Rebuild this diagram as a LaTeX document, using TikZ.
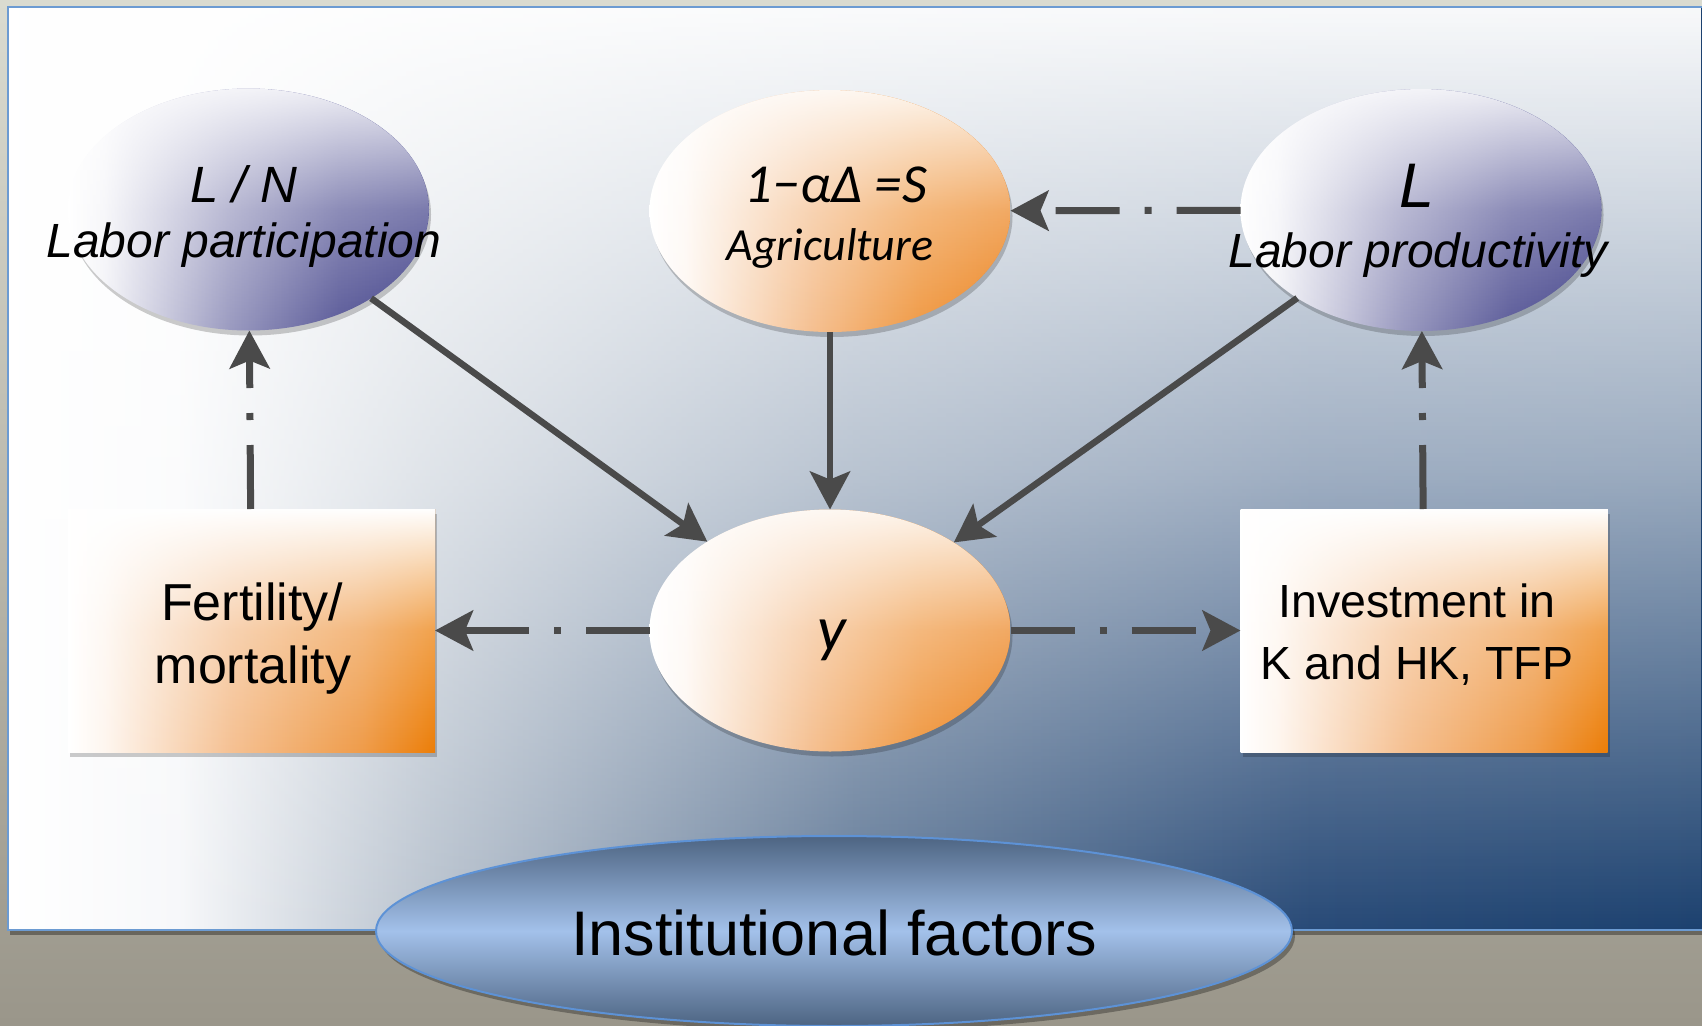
\documentclass[tikz,border=0pt]{standalone}
\usepackage{fontspec}
\setmainfont{Liberation Sans}
\newfontfamily\calib{Carlito}
\usetikzlibrary{shapes.geometric,arrows.meta,shadows,fadings}

\definecolor{arrowgray}{HTML}{4A4A4A}
\definecolor{groundTop}{HTML}{DADBD0}
\definecolor{groundBot}{HTML}{9A968A}
\definecolor{bg0}{HTML}{F7F8FA}
\definecolor{bgA}{HTML}{B8C2CE}
\definecolor{bgB}{HTML}{627A98}
\definecolor{bgC}{HTML}{284A77}
\definecolor{bgD}{HTML}{1C416F}
\definecolor{panelblue}{HTML}{6C9BD2}
\definecolor{purp1}{HTML}{F4F4F8}
\definecolor{purp2}{HTML}{9A9AC0}
\definecolor{purp3}{HTML}{5C5C9A}
\definecolor{purp4}{HTML}{42428A}
\definecolor{or1}{HTML}{FEF8F3}
\definecolor{or2}{HTML}{F5C091}
\definecolor{or3}{HTML}{F09A45}
\definecolor{or4}{HTML}{EC8420}
\definecolor{bx1}{HTML}{FEF6EF}
\definecolor{bx2}{HTML}{F5C091}
\definecolor{bx3}{HTML}{EF9C4A}
\definecolor{bx4}{HTML}{EC7E08}
\definecolor{instEdge}{HTML}{4D6482}
\definecolor{instMid}{HTML}{A3C1EA}
\definecolor{instLine}{HTML}{5D92D6}

\pgfdeclarehorizontalshading{panelh}{100bp}{color(0bp)=(white); color(25bp)=(white); color(30bp)=(bg0); color(37.5bp)=(bgA); color(50bp)=(bgB); color(63.5bp)=(bgC); color(75bp)=(bgD); color(100bp)=(bgD)}
\pgfdeclarehorizontalshading{purph}{100bp}{color(0bp)=(white); color(25bp)=(white); color(30bp)=(purp1); color(47.5bp)=(purp2); color(62.5bp)=(purp3); color(75bp)=(purp4); color(100bp)=(purp4)}
\pgfdeclarehorizontalshading{orh}{100bp}{color(0bp)=(white); color(25bp)=(white); color(30bp)=(or1); color(47.5bp)=(or2); color(62.5bp)=(or3); color(75bp)=(or4); color(100bp)=(or4)}
\pgfdeclarehorizontalshading{bxh}{100bp}{color(0bp)=(white); color(25bp)=(white); color(30bp)=(bx1); color(47.5bp)=(bx2); color(65bp)=(bx3); color(75bp)=(bx4); color(100bp)=(bx4)}
\tikzfading[name=panelfade, top color=transparent!3, bottom color=transparent!100, middle color=transparent!44]
\tikzfading[name=ovalfade, top color=transparent!10, bottom color=transparent!100, middle color=transparent!70]
\tikzfading[name=boxfade, top color=transparent!0, bottom color=transparent!100, middle color=transparent!72]

\begin{document}
\begin{tikzpicture}[x=1pt,y=-1pt,
  solidarr/.style={line width=6.5pt, draw=arrowgray, -{Stealth[length=38pt,width=40pt,inset=8pt,fill=arrowgray]}},
  dd/.style={line width=7pt, draw=arrowgray, dash pattern=on 64pt off 25pt on 7pt off 25pt, -{Stealth[length=38pt,width=40pt,inset=8pt,fill=arrowgray]}},
  shad/.style={drop shadow={shadow xshift=2pt, shadow yshift=-5pt, opacity=0.2, fill=black}},
  oval/.style={ellipse, minimum width=361pt, minimum height=242pt, inner sep=0pt, outer sep=0pt, shad, postaction={fill=white, path fading=ovalfade}},
  purpleov/.style={oval, shading=purph},
  orangeov/.style={oval, shading=orh},
  orbox/.style={rectangle, minimum width=367pt, minimum height=243pt, inner sep=0pt, outer sep=0pt, shad, shading=bxh, postaction={fill=white, path fading=boxfade}},
  txt/.style={inner sep=0pt, anchor=base, text=black},
  ]
\useasboundingbox (0,0) rectangle (1702,1025);
\clip (0,0) rectangle (1702,1025);

% ground
\shade[top color=groundTop, bottom color=groundBot] (0,0) rectangle (1702,1025);

% panel
\shade[shading=panelh, drop shadow={shadow xshift=2pt, shadow yshift=-5pt, opacity=0.35, fill=black}] (8,7) rectangle (1702,930);
\fill[white, path fading=panelfade] (8,7) rectangle (1702,930);
\draw[panelblue, line width=2pt] (1706,7) -- (8,7) -- (8,930) -- (1706,930);

% nodes
\node[purpleov] (LN) at (248.5,209.5) {};
\node[orangeov] (Ag) at (830,211) {};
\node[purpleov] (LP) at (1421,210) {};
\node[orangeov] (Y) at (830,630.5) {};
\node[orbox] (Fert) at (251.5,630.5) {};
\node[orbox] (Inv) at (1424,630.5) {};

% texts
\node[txt, font=\itshape\fontsize{51}{60}\selectfont] (LNa) at (244,202) {L / N};
\node[txt, font=\itshape\fontsize{48}{58}\selectfont] (LNb) at (244,257) {Labor participation};
\node[txt, font=\calib\itshape\fontsize{55}{64}\selectfont] (Aga) at (836,202) {1−αΔ =S};
\node[txt, font=\calib\itshape\fontsize{46}{56}\selectfont] (Agb) at (830,260) {Agriculture};
\node[txt, font=\itshape\fontsize{63}{72}\selectfont] (LPa) at (1417,207) {L};
\node[txt, font=\itshape\fontsize{48}{58}\selectfont] (LPb) at (1418,267) {Labor productivity};
\node[txt, font=\calib\itshape\fontsize{64}{72}\selectfont] (Ya) at (832,650) {y};
\node[txt, font=\fontsize{52}{62}\selectfont] (Fa) at (252,620) {Fertility/};
\node[txt, font=\fontsize{52}{62}\selectfont] (Fb) at (253,683) {mortality};
\node[txt, font=\fontsize{46.5}{56}\selectfont] (Ia) at (1417,617) {Investment in};
\node[txt, font=\fontsize{46.5}{56}\selectfont] (Ib) at (1417,679) {K and HK, TFP};

% connectors
\draw[solidarr] (LN) -- (Y);
\draw[solidarr] (Ag) -- (Y);
\draw[solidarr] (LP) -- (Y);
\draw[dd] (LP) -- (Ag);
\draw[dd] (Y) -- (Fert);
\draw[dd] (Y) -- (Inv);
\draw[dd] (Fert) -- (LN);
\draw[dd] (Inv) -- (LP);

% institutional factors
\node[ellipse, minimum width=916pt, minimum height=190pt, inner sep=0pt, draw=instLine, line width=2pt,
      top color=instEdge, bottom color=instEdge, middle color=instMid,
      drop shadow={shadow xshift=3pt, shadow yshift=-5pt, opacity=0.3, fill=black}] (Inst) at (834,931) {};
\node[txt, font=\fontsize{63}{72}\selectfont] (Insta) at (834,955) {Institutional factors};
\end{tikzpicture}
\end{document}
